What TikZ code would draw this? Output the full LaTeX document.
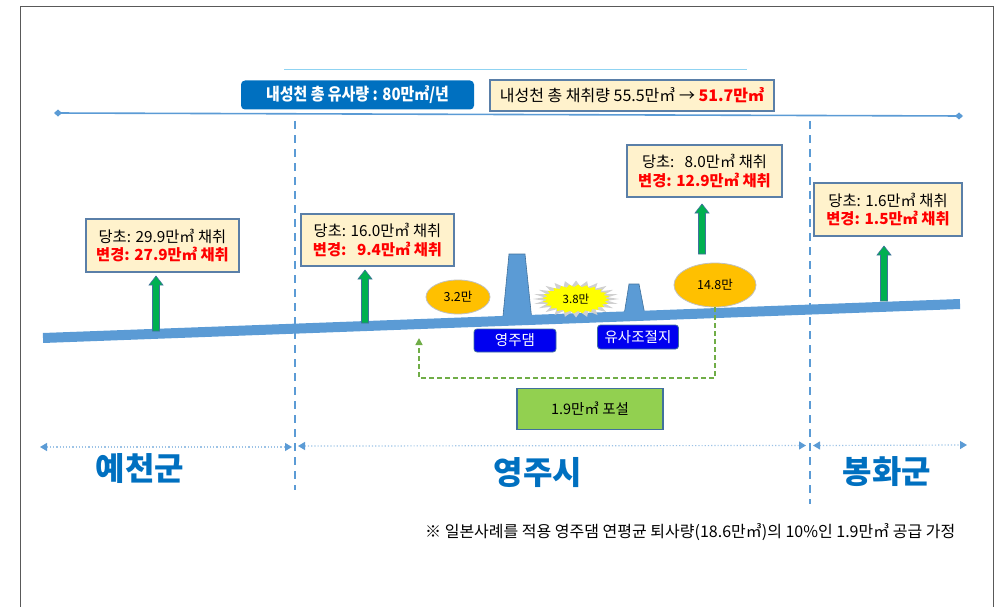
\documentclass[tikz,border=0pt]{standalone}
\usepackage{fontspec}
\setmainfont{Noto Sans CJK KR}
\usetikzlibrary{arrows.meta,shapes.geometric}
\definecolor{riverblue}{HTML}{5B9BD5}
\definecolor{titleblue}{HTML}{0070C0}
\definecolor{beige}{HTML}{FFF2CC}
\definecolor{boxline}{HTML}{5A7FA8}
\definecolor{arrgreen}{HTML}{00B050}
\definecolor{arrline}{HTML}{41719C}
\definecolor{gold}{HTML}{FFC000}
\definecolor{damblue}{HTML}{0000F0}
\definecolor{dashgreen}{HTML}{70AD47}
\definecolor{lightgreen}{HTML}{92D050}
\definecolor{dotblue}{HTML}{9DC3E6}
\definecolor{skyline}{HTML}{8FD3F2}
\definecolor{framegray}{HTML}{595959}
\definecolor{redtxt}{HTML}{FF0000}
\definecolor{burstgray}{HTML}{D0D0D0}
\definecolor{burstyellow}{HTML}{FFFF00}
\newcommand\myfs[2]{\fontsize{#1}{#2}\selectfont}
\newcommand\uparr[3]{\draw[arrline, line width=0.6pt, fill=arrgreen]
  (#1-3.5,#2) -- (#1-3.5,#3+9) -- (#1-7,#3+9) -- (#1,#3) -- (#1+7,#3+9) -- (#1+3.5,#3+9) -- (#1+3.5,#2) -- cycle;}
\tikzset{
  infobox/.style={draw=boxline, line width=1.2pt, fill=beige, align=center, inner sep=0pt, font=\myfs{15.3}{18.5}},
  titlebox/.style={fill=titleblue, rounded corners=4pt, text=white, inner sep=0pt, font=\bfseries\myfs{17}{17}, minimum width=233, minimum height=29},
  sumbox/.style={draw=boxline, line width=1.2pt, fill=beige, inner sep=0pt, font=\myfs{16}{16}, minimum width=284, minimum height=31},
  goldell/.style={ellipse, fill=gold, draw=black!25, line width=0.8pt, inner sep=0pt, font=\myfs{12.5}{12.5}},
  dambox/.style={fill=damblue, draw=arrline, line width=0.8pt, rounded corners=3pt, text=white, inner sep=0pt, font=\myfs{14.5}{14.5}},
  damshape/.style={fill=riverblue, draw=arrline, line width=0.6pt},
  greenbox/.style={fill=lightgreen, draw=arrline, line width=1.2pt, inner sep=0pt, font=\myfs{14.5}{14.5}},
  vdash/.style={riverblue, line width=1.2pt, dash pattern=on 8pt off 6pt},
  dotarrow/.style={dotblue, line width=1.2pt, dotted, {Triangle[width=8pt,length=7pt,color=riverblue]}-{Triangle[width=8pt,length=7pt,color=riverblue]}},
  region/.style={text=titleblue, font=\bfseries\myfs{32}{32}, inner sep=0pt},
}
\begin{document}
\begin{tikzpicture}[x=1pt,y=-1pt]
\useasboundingbox (0,0) rectangle (995,607);
% frame
\draw[framegray, line width=1pt] (20,607) -- (20,7) -- (993,7) -- (993,607);
% top sky line
\coordinate (skyl) at (284,70); \coordinate (skyr) at (747,70);
\draw[skyline, line width=1pt] (skyl) -- (skyr);
% title boxes
\node[titlebox] (total) at (357.5,95) {\scalebox{0.88}[1]{내성천 총 유사량 : 80만㎥/년}};
\node[sumbox] (sum) at (632,95.5) {내성천 총 채취량 55.5만㎥ → {\bfseries\color{redtxt}51.7만㎥}};
% diamond line
\coordinate (dl) at (54,113); \coordinate (dr) at (963,116);
\draw[riverblue, line width=1.6pt, {Diamond[width=7pt,length=8pt]}-{Diamond[width=7pt,length=8pt]}] (dl) -- (dr);
% vertical dashed dividers
\coordinate (v1t) at (295,121); \coordinate (v1b) at (295,490);
\coordinate (v2t) at (810,121); \coordinate (v2b) at (810,504);
\draw[vdash] (v1t) -- (v1b);
\draw[vdash] (v2t) -- (v2b);
% dams
\filldraw[damshape] (502.5,321) -- (509,254) -- (525,254) -- (532,321) -- cycle;
\filldraw[damshape] (624,315) -- (629,284) -- (639,284) -- (645,315) -- cycle;
% river
\coordinate (rl) at (43,338); \coordinate (rr) at (960,304);
\draw[riverblue, line width=10pt] (rl) -- (rr);
% info boxes
\node[infobox, minimum width=153, minimum height=53] (b1) at (162.5,245.5) {당초: 29.9만㎥ 채취\\{\bfseries\color{redtxt}변경: 27.9만㎥ 채취}};
\node[infobox, minimum width=153, minimum height=52] (b2) at (377.5,240) {당초: 16.0만㎥ 채취\\{\bfseries\color{redtxt}변경:\ \ \ 9.4만㎥ 채취}};
\node[infobox, minimum width=155, minimum height=52] (b3) at (704.5,171) {당초:\ \ \ 8.0만㎥ 채취\\{\bfseries\color{redtxt}변경: 12.9만㎥ 채취}};
\node[infobox, minimum width=148, minimum height=53] (b4) at (888,209.5) {당초: 1.6만㎥ 채취\\{\bfseries\color{redtxt}변경: 1.5만㎥ 채취}};
% green up arrows
\uparr{156}{331}{276}
\uparr{365}{323}{270}
\uparr{702}{254}{204}
\uparr{884}{301}{246}
% ellipses
\node[goldell, minimum width=64, minimum height=34] (e32) at (458,297) {3.2만};
\node[goldell, minimum width=82, minimum height=44] (e148) at (715,285) {14.8만};
% starburst
\fill[burstgray] plot[samples at={0,7.5,...,352.5}, variable=\t] ({576+(43-11*mod(round(\t/7.5),2))*cos(\t)}, {299+(18.5-5.5*mod(round(\t/7.5),2))*sin(\t)}) -- cycle;
\fill[burstyellow] plot[samples at={3.75,11.25,...,356.25}, variable=\t] ({576+(34-5*mod(round((\t-3.75)/7.5),2))*cos(\t)}, {299+(14.5-2.5*mod(round((\t-3.75)/7.5),2))*sin(\t)}) -- cycle;
\node[inner sep=0pt, font=\myfs{11.5}{11.5}] (burst) at (576,299) {3.8만};
% dam labels
\node[dambox, minimum width=82, minimum height=23] (ydam) at (515,340.5) {영주댐};
\node[dambox, minimum width=81, minimum height=24] (ctrl) at (638,337) {유사조절지};
% green dashed return path
\coordinate (dcorner) at (419,378); \coordinate (dtip) at (419,338);
\draw[dashgreen, line width=1.5pt, dash pattern=on 5pt off 3pt, -{Triangle[width=7pt,length=7pt]}] (e148.south) |- (dcorner) -- (dtip);
% green box
\node[greenbox, minimum width=146, minimum height=41] (spread) at (590,409) {1.9만㎥ 포설};
% dotted region arrows
\coordinate (a1) at (40,447); \coordinate (a2) at (292,447);
\coordinate (a3) at (298,446); \coordinate (a4) at (806,445.5);
\coordinate (a5) at (813,445.5); \coordinate (a6) at (967,445);
\draw[dotarrow] (a1) -- (a2);
\draw[dotarrow] (a3) -- (a4);
\draw[dotarrow] (a5) -- (a6);
% region names
\node[region] (yc) at (140,468) {예천군};
\node[region] (yj) at (538,473) {영주시};
\node[region] (bh) at (887,472) {봉화군};
% footnote
\node[anchor=west, inner sep=0pt, font=\myfs{16}{16}] (note) at (425,532) {※ 일본사례를 적용 영주댐 연평균 퇴사량(18.6만㎥)의 10\%인 1.9만㎥ 공급 가정};
\end{tikzpicture}
\end{document}
